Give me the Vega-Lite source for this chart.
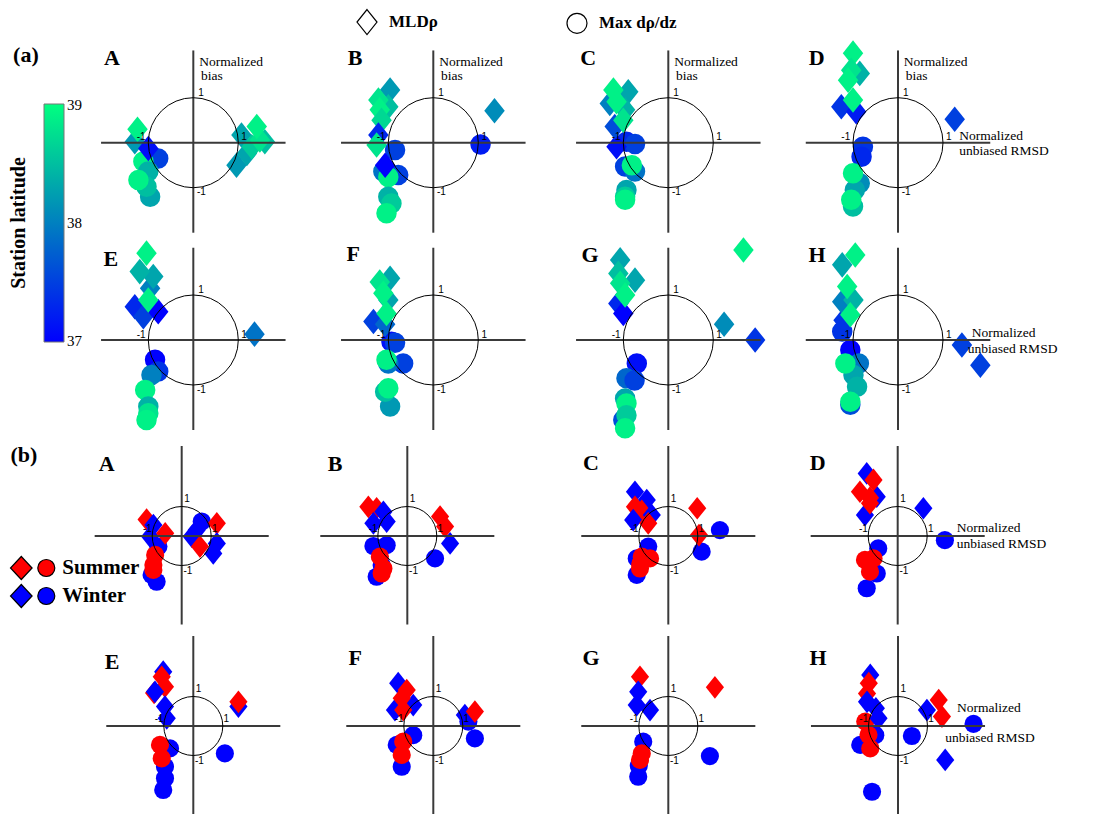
{
"$schema": "https://vega.github.io/schema/vega-lite/v6.json",
"background": "white",
"padding": 0,
"autosize": {"type": "pad"},
"config": {"view": {"stroke": null}, "font": "Liberation Serif", "text": {"color": "black"}},
"spacing": 0,
"bounds": "flush",
"columns": 4,
"datasets": {
"axA": [{"x": -2.05, "y": 0, "x2": 2.05, "y2": 0}, {"x": 0, "y": -2.0, "x2": 0, "y2": 2.05}],
"axB": [{"x": -2.95, "y": 0, "x2": 2.95, "y2": 0}, {"x": 0, "y": -3.0, "x2": 0, "y2": 3.05}],
"tkA": [{"x": 0.17, "y": 1.11, "t": "1"}, {"x": 0.18, "y": -1.1, "t": "-1"}, {"x": -1.16, "y": 0.12, "t": "-1"}, {"x": 1.13, "y": 0.12, "t": "1"}],
"tkB": [{"x": 0.18, "y": 1.24, "t": "1"}, {"x": 0.21, "y": -1.19, "t": "-1"}, {"x": -1.16, "y": 0.24, "t": "-1"}, {"x": 1.12, "y": 0.23, "t": "1"}],
"o": [{"x": 0, "y": 0}],
"bold": [
{"p": "a1", "x": -1.81, "y": 1.88, "t": "A"}, {"p": "a1", "x": -3.72, "y": 1.95, "t": "(a)"},
{"p": "a2", "x": -1.74, "y": 1.88, "t": "B"}, {"p": "a3", "x": -1.78, "y": 1.88, "t": "C"}, {"p": "a4", "x": -1.81, "y": 1.88, "t": "D"},
{"p": "a5", "x": -1.83, "y": 1.8, "t": "E"}, {"p": "a6", "x": -1.78, "y": 1.91, "t": "F"}, {"p": "a7", "x": -1.74, "y": 1.89, "t": "G"}, {"p": "a8", "x": -1.8, "y": 1.89, "t": "H"},
{"p": "b1", "x": -2.54, "y": 2.44, "t": "A"}, {"p": "b1", "x": -5.35, "y": 2.75, "t": "(b)"},
{"p": "b2", "x": -2.45, "y": 2.44, "t": "B"}, {"p": "b3", "x": -2.62, "y": 2.48, "t": "C"}, {"p": "b4", "x": -2.71, "y": 2.48, "t": "D"},
{"p": "b5", "x": -2.75, "y": 2.18, "t": "E"}, {"p": "b6", "x": -2.65, "y": 2.29, "t": "F"}, {"p": "b7", "x": -2.62, "y": 2.29, "t": "G"}, {"p": "b8", "x": -2.71, "y": 2.29, "t": "H"}
],
"ann": [
{"p": "a1", "x": 0.13, "y": 1.8, "t": "Normalized"}, {"p": "a1", "x": 0.17, "y": 1.49, "t": "bias"},
{"p": "a2", "x": 0.13, "y": 1.8, "t": "Normalized"}, {"p": "a2", "x": 0.17, "y": 1.49, "t": "bias"},
{"p": "a3", "x": 0.13, "y": 1.8, "t": "Normalized"}, {"p": "a3", "x": 0.17, "y": 1.49, "t": "bias"},
{"p": "a4", "x": 0.13, "y": 1.8, "t": "Normalized"}, {"p": "a4", "x": 0.17, "y": 1.49, "t": "bias"},
{"p": "a4", "x": 1.36, "y": 0.14, "t": "Normalized"}, {"p": "a4", "x": 1.36, "y": -0.19, "t": "unbiased RMSD"},
{"p": "a8", "x": 1.64, "y": 0.16, "t": "Normalized"}, {"p": "a8", "x": 1.55, "y": -0.19, "t": "unbiased RMSD"},
{"p": "b4", "x": 2.0, "y": 0.26, "t": "Normalized"}, {"p": "b4", "x": 2.0, "y": -0.27, "t": "unbiased RMSD"},
{"p": "b8", "x": 2.0, "y": 0.62, "t": "Normalized"}, {"p": "b8", "x": 1.6, "y": -0.42, "t": "unbiased RMSD"}
],
"pts": [
{"p":"a1","k":"Max dρ/dz","x":-0.78,"y":-0.35,"c":37.5},{"p":"a1","k":"Max dρ/dz","x":-1.11,"y":-0.42,"c":38.9},{"p":"a1","k":"Max dρ/dz","x":-1.0,"y":-0.64,"c":38.4},{"p":"a1","k":"Max dρ/dz","x":-0.96,"y":-1.2,"c":38.3},{"p":"a1","k":"Max dρ/dz","x":-1.04,"y":-0.98,"c":38.5},{"p":"a1","k":"Max dρ/dz","x":-1.22,"y":-0.83,"c":38.9},
{"p":"a1","k":"MLDρ","x":-1.3,"y":0.02,"c":38.2},{"p":"a1","k":"MLDρ","x":-1.24,"y":0.3,"c":38.9},{"p":"a1","k":"MLDρ","x":-1.0,"y":-0.13,"c":37.1},{"p":"a1","k":"MLDρ","x":0.96,"y":-0.5,"c":38.2},{"p":"a1","k":"MLDρ","x":1.19,"y":-0.24,"c":38.3},{"p":"a1","k":"MLDρ","x":1.07,"y":0.17,"c":38.3},{"p":"a1","k":"MLDρ","x":1.59,"y":0.02,"c":38.5},{"p":"a1","k":"MLDρ","x":1.3,"y":-0.09,"c":38.6},{"p":"a1","k":"MLDρ","x":1.48,"y":0.06,"c":38.8},{"p":"a1","k":"MLDρ","x":1.41,"y":0.36,"c":38.9},
{"p":"a2","k":"Max dρ/dz","x":1.05,"y":-0.04,"c":37.2},{"p":"a2","k":"Max dρ/dz","x":-0.85,"y":-0.16,"c":37.5},{"p":"a2","k":"Max dρ/dz","x":-0.78,"y":-0.72,"c":37.5},{"p":"a2","k":"Max dρ/dz","x":-1.11,"y":-0.64,"c":37.9},{"p":"a2","k":"Max dρ/dz","x":-1.0,"y":-0.76,"c":38.9},{"p":"a2","k":"Max dρ/dz","x":-1.0,"y":-1.2,"c":38.4},{"p":"a2","k":"Max dρ/dz","x":-0.93,"y":-1.35,"c":38.6},{"p":"a2","k":"Max dρ/dz","x":-1.04,"y":-1.57,"c":38.9},
{"p":"a2","k":"MLDρ","x":-0.96,"y":1.17,"c":38.2},{"p":"a2","k":"MLDρ","x":-1.0,"y":0.8,"c":38.5},{"p":"a2","k":"MLDρ","x":-1.22,"y":0.95,"c":38.8},{"p":"a2","k":"MLDρ","x":-1.19,"y":0.73,"c":38.9},{"p":"a2","k":"MLDρ","x":-1.15,"y":0.5,"c":38.7},{"p":"a2","k":"MLDρ","x":-1.22,"y":0.17,"c":37.3},{"p":"a2","k":"MLDρ","x":-1.26,"y":-0.05,"c":38.8},{"p":"a2","k":"MLDρ","x":-1.07,"y":-0.5,"c":37.0},{"p":"a2","k":"MLDρ","x":1.36,"y":0.71,"c":38.1},
{"p":"a3","k":"Max dρ/dz","x":-0.93,"y":0.02,"c":37.3},{"p":"a3","k":"Max dρ/dz","x":-0.74,"y":-0.03,"c":37.5},{"p":"a3","k":"Max dρ/dz","x":-0.96,"y":-0.53,"c":37.5},{"p":"a3","k":"Max dρ/dz","x":-0.74,"y":-0.64,"c":37.9},{"p":"a3","k":"Max dρ/dz","x":-0.81,"y":-0.5,"c":38.9},{"p":"a3","k":"Max dρ/dz","x":-0.93,"y":-1.05,"c":38.3},{"p":"a3","k":"Max dρ/dz","x":-0.96,"y":-1.2,"c":38.6},{"p":"a3","k":"Max dρ/dz","x":-0.96,"y":-1.27,"c":38.9},
{"p":"a3","k":"MLDρ","x":-1.15,"y":-0.09,"c":37.1},{"p":"a3","k":"MLDρ","x":-1.19,"y":0.36,"c":37.6},{"p":"a3","k":"MLDρ","x":-1.3,"y":0.87,"c":38.0},{"p":"a3","k":"MLDρ","x":-0.89,"y":1.13,"c":38.3},{"p":"a3","k":"MLDρ","x":-0.96,"y":0.73,"c":38.4},{"p":"a3","k":"MLDρ","x":-1.22,"y":1.17,"c":38.9},{"p":"a3","k":"MLDρ","x":-1.15,"y":0.91,"c":38.9},{"p":"a3","k":"MLDρ","x":-1.0,"y":0.5,"c":38.8},
{"p":"a4","k":"Max dρ/dz","x":-0.78,"y":-0.09,"c":37.4},{"p":"a4","k":"Max dρ/dz","x":-0.81,"y":-0.31,"c":37.3},{"p":"a4","k":"Max dρ/dz","x":-0.85,"y":-0.9,"c":38.1},{"p":"a4","k":"Max dρ/dz","x":-0.96,"y":-1.05,"c":38.3},{"p":"a4","k":"Max dρ/dz","x":-1.0,"y":-1.42,"c":38.5},{"p":"a4","k":"Max dρ/dz","x":-1.0,"y":-0.68,"c":38.9},{"p":"a4","k":"Max dρ/dz","x":-1.04,"y":-1.27,"c":38.9},
{"p":"a4","k":"MLDρ","x":-1.26,"y":0.8,"c":37.4},{"p":"a4","k":"MLDρ","x":-0.93,"y":0.69,"c":37.2},{"p":"a4","k":"MLDρ","x":-0.85,"y":1.54,"c":38.4},{"p":"a4","k":"MLDρ","x":-1.0,"y":1.99,"c":38.9},{"p":"a4","k":"MLDρ","x":-1.04,"y":1.61,"c":38.8},{"p":"a4","k":"MLDρ","x":-1.11,"y":1.39,"c":38.9},{"p":"a4","k":"MLDρ","x":-1.0,"y":0.95,"c":38.9},{"p":"a4","k":"MLDρ","x":1.26,"y":0.52,"c":37.5},
{"p":"a5","k":"Max dρ/dz","x":-0.85,"y":-0.44,"c":37.0},{"p":"a5","k":"Max dρ/dz","x":-0.78,"y":-0.7,"c":37.4},{"p":"a5","k":"Max dρ/dz","x":-0.93,"y":-0.78,"c":38.0},{"p":"a5","k":"Max dρ/dz","x":-1.07,"y":-1.11,"c":38.9},{"p":"a5","k":"Max dρ/dz","x":-1.0,"y":-1.48,"c":38.4},{"p":"a5","k":"Max dρ/dz","x":-1.0,"y":-1.63,"c":38.8},{"p":"a5","k":"Max dρ/dz","x":-1.04,"y":-1.78,"c":38.9},
{"p":"a5","k":"MLDρ","x":-1.3,"y":0.74,"c":37.3},{"p":"a5","k":"MLDρ","x":-1.11,"y":0.52,"c":37.5},{"p":"a5","k":"MLDρ","x":-0.78,"y":0.63,"c":37.0},{"p":"a5","k":"MLDρ","x":-0.96,"y":1.15,"c":38.0},{"p":"a5","k":"MLDρ","x":-0.89,"y":1.41,"c":38.3},{"p":"a5","k":"MLDρ","x":-1.19,"y":1.52,"c":38.4},{"p":"a5","k":"MLDρ","x":-1.04,"y":1.93,"c":38.9},{"p":"a5","k":"MLDρ","x":-1.0,"y":0.89,"c":38.9},{"p":"a5","k":"MLDρ","x":1.36,"y":0.13,"c":37.9},
{"p":"a6","k":"Max dρ/dz","x":-0.93,"y":-0.04,"c":37.1},{"p":"a6","k":"Max dρ/dz","x":-0.85,"y":-0.06,"c":37.5},{"p":"a6","k":"Max dρ/dz","x":-0.67,"y":-0.52,"c":37.5},{"p":"a6","k":"Max dρ/dz","x":-1.0,"y":-0.52,"c":37.9},{"p":"a6","k":"Max dρ/dz","x":-1.04,"y":-0.44,"c":38.9},{"p":"a6","k":"Max dρ/dz","x":-0.96,"y":-1.48,"c":38.2},{"p":"a6","k":"Max dρ/dz","x":-1.07,"y":-1.15,"c":38.5},{"p":"a6","k":"Max dρ/dz","x":-1.0,"y":-1.07,"c":38.9},
{"p":"a6","k":"MLDρ","x":-1.33,"y":0.41,"c":37.5},{"p":"a6","k":"MLDρ","x":-1.07,"y":0.35,"c":37.8},{"p":"a6","k":"MLDρ","x":-0.96,"y":1.37,"c":38.3},{"p":"a6","k":"MLDρ","x":-1.0,"y":0.89,"c":38.3},{"p":"a6","k":"MLDρ","x":-1.19,"y":1.29,"c":38.8},{"p":"a6","k":"MLDρ","x":-1.11,"y":1.04,"c":38.9},{"p":"a6","k":"MLDρ","x":-1.04,"y":0.59,"c":38.9},
{"p":"a7","k":"Max dρ/dz","x":-0.7,"y":-0.52,"c":37.1},{"p":"a7","k":"Max dρ/dz","x":-0.93,"y":-0.85,"c":37.8},{"p":"a7","k":"Max dρ/dz","x":-0.75,"y":-0.9,"c":37.5},{"p":"a7","k":"Max dρ/dz","x":-0.96,"y":-1.3,"c":38.3},{"p":"a7","k":"Max dρ/dz","x":-0.93,"y":-1.41,"c":38.9},{"p":"a7","k":"Max dρ/dz","x":-1.0,"y":-1.78,"c":37.6},{"p":"a7","k":"Max dρ/dz","x":-0.93,"y":-1.67,"c":38.6},{"p":"a7","k":"Max dρ/dz","x":-0.96,"y":-1.96,"c":38.9},
{"p":"a7","k":"MLDρ","x":-1.11,"y":0.81,"c":37.3},{"p":"a7","k":"MLDρ","x":-1.0,"y":0.59,"c":37.0},{"p":"a7","k":"MLDρ","x":-1.07,"y":1.78,"c":38.3},{"p":"a7","k":"MLDρ","x":-1.11,"y":1.48,"c":38.5},{"p":"a7","k":"MLDρ","x":-0.74,"y":1.33,"c":38.3},{"p":"a7","k":"MLDρ","x":-1.07,"y":1.26,"c":38.8},{"p":"a7","k":"MLDρ","x":-0.96,"y":1.0,"c":38.9},{"p":"a7","k":"MLDρ","x":1.67,"y":2.0,"c":38.9},{"p":"a7","k":"MLDρ","x":1.24,"y":0.35,"c":38.1},{"p":"a7","k":"MLDρ","x":1.93,"y":0.0,"c":37.4},
{"p":"a8","k":"Max dρ/dz","x":-1.24,"y":0.19,"c":37.4},{"p":"a8","k":"Max dρ/dz","x":-1.06,"y":-0.22,"c":37.0},{"p":"a8","k":"Max dρ/dz","x":-0.87,"y":-0.52,"c":37.9},{"p":"a8","k":"Max dρ/dz","x":-0.99,"y":-0.78,"c":38.3},{"p":"a8","k":"Max dρ/dz","x":-0.91,"y":-1.04,"c":38.4},{"p":"a8","k":"Max dρ/dz","x":-1.06,"y":-1.44,"c":37.6},{"p":"a8","k":"Max dρ/dz","x":-1.17,"y":-0.52,"c":38.9},{"p":"a8","k":"Max dρ/dz","x":-1.06,"y":-1.37,"c":38.9},
{"p":"a8","k":"MLDρ","x":-1.21,"y":0.44,"c":37.4},{"p":"a8","k":"MLDρ","x":-1.24,"y":0.85,"c":38.0},{"p":"a8","k":"MLDρ","x":-1.24,"y":1.67,"c":38.3},{"p":"a8","k":"MLDρ","x":-0.99,"y":0.89,"c":38.4},{"p":"a8","k":"MLDρ","x":-0.95,"y":1.89,"c":38.9},{"p":"a8","k":"MLDρ","x":-1.13,"y":1.19,"c":38.9},{"p":"a8","k":"MLDρ","x":-1.06,"y":0.56,"c":38.9},{"p":"a8","k":"MLDρ","x":1.42,"y":-0.11,"c":37.5},{"p":"a8","k":"MLDρ","x":1.83,"y":-0.56,"c":37.5},
{"p":"b1","k":"Max dρ/dz","x":0.68,"y":0.49,"s":"Winter"},{"p":"b1","k":"Max dρ/dz","x":-0.79,"y":-0.36,"s":"Winter"},{"p":"b1","k":"Max dρ/dz","x":-1.02,"y":-1.32,"s":"Winter"},{"p":"b1","k":"Max dρ/dz","x":-0.85,"y":-1.55,"s":"Winter"},{"p":"b1","k":"Max dρ/dz","x":-0.9,"y":-0.64,"s":"Summer"},{"p":"b1","k":"Max dρ/dz","x":-0.96,"y":-0.98,"s":"Summer"},{"p":"b1","k":"Max dρ/dz","x":-0.96,"y":-1.15,"s":"Summer"},
{"p":"b1","k":"MLDρ","x":-1.19,"y":0.56,"s":"Summer"},{"p":"b1","k":"MLDρ","x":-0.96,"y":0.37,"s":"Winter"},{"p":"b1","k":"MLDρ","x":-1.07,"y":-0.02,"s":"Winter"},{"p":"b1","k":"MLDρ","x":-0.56,"y":0.09,"s":"Summer"},{"p":"b1","k":"MLDρ","x":0.34,"y":-0.02,"s":"Winter"},{"p":"b1","k":"MLDρ","x":0.51,"y":0.2,"s":"Winter"},{"p":"b1","k":"MLDρ","x":1.19,"y":0.43,"s":"Summer"},{"p":"b1","k":"MLDρ","x":1.19,"y":-0.25,"s":"Winter"},{"p":"b1","k":"MLDρ","x":0.62,"y":-0.36,"s":"Summer"},{"p":"b1","k":"MLDρ","x":1.07,"y":-0.59,"s":"Winter"},
{"p":"b2","k":"Max dρ/dz","x":-1.15,"y":-0.34,"s":"Winter"},{"p":"b2","k":"Max dρ/dz","x":-0.7,"y":-0.31,"s":"Winter"},{"p":"b2","k":"Max dρ/dz","x":-0.87,"y":-0.98,"s":"Winter"},{"p":"b2","k":"Max dρ/dz","x":-1.04,"y":-1.38,"s":"Winter"},{"p":"b2","k":"Max dρ/dz","x":0.94,"y":-0.76,"s":"Winter"},{"p":"b2","k":"Max dρ/dz","x":-0.93,"y":-0.7,"s":"Summer"},{"p":"b2","k":"Max dρ/dz","x":-0.81,"y":-1.1,"s":"Summer"},{"p":"b2","k":"Max dρ/dz","x":-0.87,"y":-1.27,"s":"Summer"},
{"p":"b2","k":"MLDρ","x":-1.32,"y":0.99,"s":"Summer"},{"p":"b2","k":"MLDρ","x":-1.04,"y":0.94,"s":"Summer"},{"p":"b2","k":"MLDρ","x":-0.81,"y":0.82,"s":"Winter"},{"p":"b2","k":"MLDρ","x":-0.7,"y":0.49,"s":"Winter"},{"p":"b2","k":"MLDρ","x":-1.15,"y":0.43,"s":"Winter"},{"p":"b2","k":"MLDρ","x":1.11,"y":0.66,"s":"Summer"},{"p":"b2","k":"MLDρ","x":1.28,"y":0.32,"s":"Summer"},{"p":"b2","k":"MLDρ","x":1.45,"y":-0.25,"s":"Winter"},
{"p":"b3","k":"Max dρ/dz","x":1.75,"y":0.2,"s":"Winter"},{"p":"b3","k":"Max dρ/dz","x":1.13,"y":-0.53,"s":"Winter"},{"p":"b3","k":"Max dρ/dz","x":-0.68,"y":-0.36,"s":"Winter"},{"p":"b3","k":"Max dρ/dz","x":-1.07,"y":-0.76,"s":"Winter"},{"p":"b3","k":"Max dρ/dz","x":-1.07,"y":-1.32,"s":"Winter"},{"p":"b3","k":"Max dρ/dz","x":-0.9,"y":-0.7,"s":"Summer"},{"p":"b3","k":"Max dρ/dz","x":-0.62,"y":-0.76,"s":"Summer"},{"p":"b3","k":"Max dρ/dz","x":-0.95,"y":-0.95,"s":"Summer"},{"p":"b3","k":"Max dρ/dz","x":-0.96,"y":-1.1,"s":"Summer"},
{"p":"b3","k":"MLDρ","x":-1.13,"y":1.5,"s":"Winter"},{"p":"b3","k":"MLDρ","x":-0.73,"y":1.22,"s":"Winter"},{"p":"b3","k":"MLDρ","x":-1.13,"y":0.99,"s":"Summer"},{"p":"b3","k":"MLDρ","x":-0.9,"y":0.85,"s":"Summer"},{"p":"b3","k":"MLDρ","x":-0.56,"y":0.71,"s":"Winter"},{"p":"b3","k":"MLDρ","x":-1.19,"y":0.54,"s":"Winter"},{"p":"b3","k":"MLDρ","x":-0.68,"y":0.43,"s":"Summer"},{"p":"b3","k":"MLDρ","x":0.98,"y":0.94,"s":"Summer"},{"p":"b3","k":"MLDρ","x":1.04,"y":0.03,"s":"Summer"},
{"p":"b4","k":"Max dρ/dz","x":1.6,"y":-0.14,"s":"Winter"},{"p":"b4","k":"Max dρ/dz","x":-0.66,"y":-0.42,"s":"Winter"},{"p":"b4","k":"Max dρ/dz","x":-0.71,"y":-1.27,"s":"Winter"},{"p":"b4","k":"Max dρ/dz","x":-1.05,"y":-1.77,"s":"Winter"},{"p":"b4","k":"Max dρ/dz","x":-1.11,"y":-0.81,"s":"Summer"},{"p":"b4","k":"Max dρ/dz","x":-0.82,"y":-0.76,"s":"Summer"},{"p":"b4","k":"Max dρ/dz","x":-0.94,"y":-1.21,"s":"Summer"},
{"p":"b4","k":"MLDρ","x":-1.05,"y":2.12,"s":"Winter"},{"p":"b4","k":"MLDρ","x":-0.71,"y":1.33,"s":"Winter"},{"p":"b4","k":"MLDρ","x":-1.11,"y":0.71,"s":"Winter"},{"p":"b4","k":"MLDρ","x":-0.82,"y":1.9,"s":"Summer"},{"p":"b4","k":"MLDρ","x":-1.28,"y":1.5,"s":"Summer"},{"p":"b4","k":"MLDρ","x":-0.94,"y":1.3,"s":"Summer"},{"p":"b4","k":"MLDρ","x":-0.94,"y":1.11,"s":"Summer"},{"p":"b4","k":"MLDρ","x":0.87,"y":0.94,"s":"Winter"},
{"p":"b5","k":"Max dρ/dz","x":-0.79,"y":-0.76,"s":"Winter"},{"p":"b5","k":"Max dρ/dz","x":-0.96,"y":-1.38,"s":"Winter"},{"p":"b5","k":"Max dρ/dz","x":-0.96,"y":-1.77,"s":"Winter"},{"p":"b5","k":"Max dρ/dz","x":-1.02,"y":-2.17,"s":"Winter"},{"p":"b5","k":"Max dρ/dz","x":1.07,"y":-0.93,"s":"Winter"},{"p":"b5","k":"Max dρ/dz","x":-1.13,"y":-0.64,"s":"Summer"},{"p":"b5","k":"Max dρ/dz","x":-1.07,"y":-1.1,"s":"Summer"},
{"p":"b5","k":"MLDρ","x":-1.02,"y":1.84,"s":"Winter"},{"p":"b5","k":"MLDρ","x":-1.07,"y":1.67,"s":"Summer"},{"p":"b5","k":"MLDρ","x":-0.96,"y":1.33,"s":"Summer"},{"p":"b5","k":"MLDρ","x":-1.33,"y":1.12,"s":"Summer"},{"p":"b5","k":"MLDρ","x":-1.3,"y":1.16,"s":"Winter"},{"p":"b5","k":"MLDρ","x":-0.96,"y":0.66,"s":"Winter"},{"p":"b5","k":"MLDρ","x":-0.9,"y":0.26,"s":"Winter"},{"p":"b5","k":"MLDρ","x":1.53,"y":0.66,"s":"Winter"},{"p":"b5","k":"MLDρ","x":1.53,"y":0.82,"s":"Summer"},
{"p":"b6","k":"Max dρ/dz","x":1.19,"y":0.15,"s":"Winter"},{"p":"b6","k":"Max dρ/dz","x":-0.68,"y":-0.31,"s":"Winter"},{"p":"b6","k":"Max dρ/dz","x":1.41,"y":-0.42,"s":"Winter"},{"p":"b6","k":"Max dρ/dz","x":-1.24,"y":-0.64,"s":"Winter"},{"p":"b6","k":"Max dρ/dz","x":-1.07,"y":-1.38,"s":"Winter"},{"p":"b6","k":"Max dρ/dz","x":-1.02,"y":-0.53,"s":"Summer"},{"p":"b6","k":"Max dρ/dz","x":-1.07,"y":-0.98,"s":"Summer"},
{"p":"b6","k":"MLDρ","x":-1.19,"y":1.45,"s":"Winter"},{"p":"b6","k":"MLDρ","x":-1.3,"y":0.54,"s":"Winter"},{"p":"b6","k":"MLDρ","x":-0.68,"y":0.71,"s":"Winter"},{"p":"b6","k":"MLDρ","x":-0.9,"y":1.22,"s":"Summer"},{"p":"b6","k":"MLDρ","x":-1.07,"y":0.94,"s":"Summer"},{"p":"b6","k":"MLDρ","x":-1.02,"y":0.54,"s":"Summer"},{"p":"b6","k":"MLDρ","x":1.07,"y":0.37,"s":"Winter"},{"p":"b6","k":"MLDρ","x":1.41,"y":0.49,"s":"Summer"},
{"p":"b7","k":"Max dρ/dz","x":-0.85,"y":-0.53,"s":"Winter"},{"p":"b7","k":"Max dρ/dz","x":-1.02,"y":-1.72,"s":"Winter"},{"p":"b7","k":"Max dρ/dz","x":-1.0,"y":-1.35,"s":"Winter"},{"p":"b7","k":"Max dρ/dz","x":1.41,"y":-1.02,"s":"Winter"},{"p":"b7","k":"Max dρ/dz","x":-0.9,"y":-0.93,"s":"Summer"},{"p":"b7","k":"Max dρ/dz","x":-0.96,"y":-1.15,"s":"Summer"},
{"p":"b7","k":"MLDρ","x":-0.96,"y":1.67,"s":"Summer"},{"p":"b7","k":"MLDρ","x":-1.02,"y":1.16,"s":"Winter"},{"p":"b7","k":"MLDρ","x":-1.07,"y":0.71,"s":"Winter"},{"p":"b7","k":"MLDρ","x":-0.62,"y":0.54,"s":"Winter"},{"p":"b7","k":"MLDρ","x":1.58,"y":1.31,"s":"Summer"},
{"p":"b8","k":"Max dρ/dz","x":-0.77,"y":-0.31,"s":"Winter"},{"p":"b8","k":"Max dρ/dz","x":-1.28,"y":-0.64,"s":"Winter"},{"p":"b8","k":"Max dρ/dz","x":0.47,"y":-0.34,"s":"Winter"},{"p":"b8","k":"Max dρ/dz","x":2.56,"y":0.07,"s":"Winter"},{"p":"b8","k":"Max dρ/dz","x":-0.88,"y":-2.23,"s":"Winter"},{"p":"b8","k":"Max dρ/dz","x":-1.11,"y":0.15,"s":"Summer"},{"p":"b8","k":"Max dρ/dz","x":-1.0,"y":-0.3,"s":"Summer"},{"p":"b8","k":"Max dρ/dz","x":-0.94,"y":-0.76,"s":"Summer"},
{"p":"b8","k":"MLDρ","x":-0.94,"y":1.73,"s":"Winter"},{"p":"b8","k":"MLDρ","x":-0.99,"y":1.45,"s":"Summer"},{"p":"b8","k":"MLDρ","x":-1.05,"y":1.1,"s":"Summer"},{"p":"b8","k":"MLDρ","x":-1.05,"y":0.82,"s":"Winter"},{"p":"b8","k":"MLDρ","x":-0.75,"y":0.6,"s":"Winter"},{"p":"b8","k":"MLDρ","x":-0.66,"y":0.26,"s":"Winter"},{"p":"b8","k":"MLDρ","x":0.98,"y":0.54,"s":"Winter"},{"p":"b8","k":"MLDρ","x":1.38,"y":0.88,"s":"Summer"},{"p":"b8","k":"MLDρ","x":1.49,"y":0.32,"s":"Summer"},{"p":"b8","k":"MLDρ","x":1.6,"y":-1.15,"s":"Winter"}
]
},
"concat": [
{"width": 313, "height": 240,
 "encoding": {"x": {"field": "x", "type": "quantitative", "scale": {"domain": [-4.296, 2.66], "nice": false, "zero": false}, "axis": null},
  "y": {"field": "y", "type": "quantitative", "scale": {"domain": [-2.162, 3.171], "nice": false, "zero": false}, "axis": null}},
 "layer": [
  {"data": {"name": "pts"}, "transform": [{"filter": "datum.p==='a1'"}], "mark": {"type": "point", "filled": true, "opacity": 1, "size": 420, "strokeWidth": 0},
   "encoding": {
    "color": {"field": "c", "type": "quantitative", "scale": {"domain": [36.99, 39.01], "range": ["#0000ff", "#00ff80"], "interpolate": "rgb"},
     "legend": {"orient": "none", "legendX": 9, "legendY": 104, "direction": "vertical", "title": "Station latitude", "titleOrient": "left", "titleAnchor": "middle", "titleFont": "Liberation Serif", "titleFontSize": 20, "titleFontWeight": "bold", "titleColor": "black", "titlePadding": 14, "gradientLength": 238, "gradientThickness": 20, "gradientStrokeColor": "#777777", "gradientStrokeWidth": 1, "values": [37, 38, 39], "format": ".0f", "labelFont": "Liberation Serif", "labelFontSize": 15, "labelColor": "black", "labelOffset": 3, "labelFlush": false, "labelOverlap": false}},
    "shape": {"field": "k", "type": "nominal", "scale": {"domain": ["MLDρ", "Max dρ/dz"], "range": ["M0,-1.25L1,0L0,1.25L-1,0Z", "circle"]},
     "legend": {"orient": "none", "legendX": 356, "legendY": 11, "direction": "horizontal", "title": null, "symbolSize": 400, "symbolStrokeColor": "black", "symbolStrokeWidth": 1.2, "symbolFillColor": "white", "labelFont": "Liberation Serif", "labelFontSize": 17, "labelFontWeight": "bold", "labelColor": "black", "labelOffset": 11, "columnPadding": 126,
      "encode": {"symbols": {"update": {"fill": {"value": "white"}, "stroke": {"value": "black"}, "strokeWidth": {"value": 1.2}, "size": {"value": 400}, "opacity": {"value": 1}}}}}}}},
  {"data": {"name": "axA"}, "mark": {"type": "rule", "color": "#3a3a3a", "strokeWidth": 2}, "encoding": {"x2": {"field": "x2"}, "y2": {"field": "y2"}}},
  {"data": {"name": "o"}, "mark": {"type": "point", "shape": "circle", "size": 8100, "filled": false, "color": "black", "strokeWidth": 1, "opacity": 1}},
  {"data": {"name": "tkA"}, "mark": {"type": "text", "font": "Liberation Sans", "fontSize": 10}, "encoding": {"text": {"field": "t"}}},
  {"data": {"name": "ann"}, "transform": [{"filter": "datum.p==='a1'"}], "mark": {"type": "text", "align": "left", "fontSize": 13.5}, "encoding": {"text": {"field": "t"}}},
  {"data": {"name": "bold"}, "transform": [{"filter": "datum.p==='a1'"}], "mark": {"type": "text", "fontSize": 22, "fontWeight": "bold"}, "encoding": {"text": {"field": "t"}}}
 ]},
{"width": 237, "height": 240,
 "encoding": {"x": {"field": "x", "type": "quantitative", "scale": {"domain": [-2.673, 2.593], "nice": false, "zero": false}, "axis": null},
  "y": {"field": "y", "type": "quantitative", "scale": {"domain": [-2.162, 3.171], "nice": false, "zero": false}, "axis": null}},
 "layer": [
  {"data": {"name": "pts"}, "transform": [{"filter": "datum.p==='a2'"}], "mark": {"type": "point", "filled": true, "opacity": 1, "size": 420, "strokeWidth": 0},
   "encoding": {"color": {"field": "c", "type": "quantitative", "scale": {"domain": [36.99, 39.01], "range": ["#0000ff", "#00ff80"], "interpolate": "rgb"}},
    "shape": {"field": "k", "type": "nominal", "scale": {"domain": ["MLDρ", "Max dρ/dz"], "range": ["M0,-1.25L1,0L0,1.25L-1,0Z", "circle"]}}}},
  {"data": {"name": "axA"}, "mark": {"type": "rule", "color": "#3a3a3a", "strokeWidth": 2}, "encoding": {"x2": {"field": "x2"}, "y2": {"field": "y2"}}},
  {"data": {"name": "o"}, "mark": {"type": "point", "shape": "circle", "size": 8100, "filled": false, "color": "black", "strokeWidth": 1, "opacity": 1}},
  {"data": {"name": "tkA"}, "mark": {"type": "text", "font": "Liberation Sans", "fontSize": 10}, "encoding": {"text": {"field": "t"}}},
  {"data": {"name": "ann"}, "transform": [{"filter": "datum.p==='a2'"}], "mark": {"type": "text", "align": "left", "fontSize": 13.5}, "encoding": {"text": {"field": "t"}}},
  {"data": {"name": "bold"}, "transform": [{"filter": "datum.p==='a2'"}], "mark": {"type": "text", "fontSize": 22, "fontWeight": "bold"}, "encoding": {"text": {"field": "t"}}}
 ]},
{"width": 233, "height": 240,
 "encoding": {"x": {"field": "x", "type": "quantitative", "scale": {"domain": [-2.629, 2.549], "nice": false, "zero": false}, "axis": null},
  "y": {"field": "y", "type": "quantitative", "scale": {"domain": [-2.162, 3.171], "nice": false, "zero": false}, "axis": null}},
 "layer": [
  {"data": {"name": "pts"}, "transform": [{"filter": "datum.p==='a3'"}], "mark": {"type": "point", "filled": true, "opacity": 1, "size": 420, "strokeWidth": 0},
   "encoding": {"color": {"field": "c", "type": "quantitative", "scale": {"domain": [36.99, 39.01], "range": ["#0000ff", "#00ff80"], "interpolate": "rgb"}},
    "shape": {"field": "k", "type": "nominal", "scale": {"domain": ["MLDρ", "Max dρ/dz"], "range": ["M0,-1.25L1,0L0,1.25L-1,0Z", "circle"]}}}},
  {"data": {"name": "axA"}, "mark": {"type": "rule", "color": "#3a3a3a", "strokeWidth": 2}, "encoding": {"x2": {"field": "x2"}, "y2": {"field": "y2"}}},
  {"data": {"name": "o"}, "mark": {"type": "point", "shape": "circle", "size": 8100, "filled": false, "color": "black", "strokeWidth": 1, "opacity": 1}},
  {"data": {"name": "tkA"}, "mark": {"type": "text", "font": "Liberation Sans", "fontSize": 10}, "encoding": {"text": {"field": "t"}}},
  {"data": {"name": "ann"}, "transform": [{"filter": "datum.p==='a3'"}], "mark": {"type": "text", "align": "left", "fontSize": 13.5}, "encoding": {"text": {"field": "t"}}},
  {"data": {"name": "bold"}, "transform": [{"filter": "datum.p==='a3'"}], "mark": {"type": "text", "fontSize": 22, "fontWeight": "bold"}, "encoding": {"text": {"field": "t"}}}
 ]},
{"width": 317, "height": 240,
 "encoding": {"x": {"field": "x", "type": "quantitative", "scale": {"domain": [-2.556, 4.489], "nice": false, "zero": false}, "axis": null},
  "y": {"field": "y", "type": "quantitative", "scale": {"domain": [-2.162, 3.171], "nice": false, "zero": false}, "axis": null}},
 "layer": [
  {"data": {"name": "pts"}, "transform": [{"filter": "datum.p==='a4'"}], "mark": {"type": "point", "filled": true, "opacity": 1, "size": 420, "strokeWidth": 0},
   "encoding": {"color": {"field": "c", "type": "quantitative", "scale": {"domain": [36.99, 39.01], "range": ["#0000ff", "#00ff80"], "interpolate": "rgb"}},
    "shape": {"field": "k", "type": "nominal", "scale": {"domain": ["MLDρ", "Max dρ/dz"], "range": ["M0,-1.25L1,0L0,1.25L-1,0Z", "circle"]}}}},
  {"data": {"name": "axA"}, "mark": {"type": "rule", "color": "#3a3a3a", "strokeWidth": 2}, "encoding": {"x2": {"field": "x2"}, "y2": {"field": "y2"}}},
  {"data": {"name": "o"}, "mark": {"type": "point", "shape": "circle", "size": 8100, "filled": false, "color": "black", "strokeWidth": 1, "opacity": 1}},
  {"data": {"name": "tkA"}, "mark": {"type": "text", "font": "Liberation Sans", "fontSize": 10}, "encoding": {"text": {"field": "t"}}},
  {"data": {"name": "ann"}, "transform": [{"filter": "datum.p==='a4'"}], "mark": {"type": "text", "align": "left", "fontSize": 13.5}, "encoding": {"text": {"field": "t"}}},
  {"data": {"name": "bold"}, "transform": [{"filter": "datum.p==='a4'"}], "mark": {"type": "text", "fontSize": 22, "fontWeight": "bold"}, "encoding": {"text": {"field": "t"}}}
 ]},
{"width": 313, "height": 200,
 "encoding": {"x": {"field": "x", "type": "quantitative", "scale": {"domain": [-4.296, 2.66], "nice": false, "zero": false}, "axis": null},
  "y": {"field": "y", "type": "quantitative", "scale": {"domain": [-2.222, 2.222], "nice": false, "zero": false}, "axis": null}},
 "layer": [
  {"data": {"name": "pts"}, "transform": [{"filter": "datum.p==='a5'"}], "mark": {"type": "point", "filled": true, "opacity": 1, "size": 420, "strokeWidth": 0},
   "encoding": {"color": {"field": "c", "type": "quantitative", "scale": {"domain": [36.99, 39.01], "range": ["#0000ff", "#00ff80"], "interpolate": "rgb"}},
    "shape": {"field": "k", "type": "nominal", "scale": {"domain": ["MLDρ", "Max dρ/dz"], "range": ["M0,-1.25L1,0L0,1.25L-1,0Z", "circle"]}}}},
  {"data": {"name": "axA"}, "mark": {"type": "rule", "color": "#3a3a3a", "strokeWidth": 2}, "encoding": {"x2": {"field": "x2"}, "y2": {"field": "y2"}}},
  {"data": {"name": "o"}, "mark": {"type": "point", "shape": "circle", "size": 8100, "filled": false, "color": "black", "strokeWidth": 1, "opacity": 1}},
  {"data": {"name": "tkA"}, "mark": {"type": "text", "font": "Liberation Sans", "fontSize": 10}, "encoding": {"text": {"field": "t"}}},
  {"data": {"name": "bold"}, "transform": [{"filter": "datum.p==='a5'"}], "mark": {"type": "text", "fontSize": 22, "fontWeight": "bold"}, "encoding": {"text": {"field": "t"}}}
 ]},
{"width": 237, "height": 200,
 "encoding": {"x": {"field": "x", "type": "quantitative", "scale": {"domain": [-2.673, 2.593], "nice": false, "zero": false}, "axis": null},
  "y": {"field": "y", "type": "quantitative", "scale": {"domain": [-2.222, 2.222], "nice": false, "zero": false}, "axis": null}},
 "layer": [
  {"data": {"name": "pts"}, "transform": [{"filter": "datum.p==='a6'"}], "mark": {"type": "point", "filled": true, "opacity": 1, "size": 420, "strokeWidth": 0},
   "encoding": {"color": {"field": "c", "type": "quantitative", "scale": {"domain": [36.99, 39.01], "range": ["#0000ff", "#00ff80"], "interpolate": "rgb"}},
    "shape": {"field": "k", "type": "nominal", "scale": {"domain": ["MLDρ", "Max dρ/dz"], "range": ["M0,-1.25L1,0L0,1.25L-1,0Z", "circle"]}}}},
  {"data": {"name": "axA"}, "mark": {"type": "rule", "color": "#3a3a3a", "strokeWidth": 2}, "encoding": {"x2": {"field": "x2"}, "y2": {"field": "y2"}}},
  {"data": {"name": "o"}, "mark": {"type": "point", "shape": "circle", "size": 8100, "filled": false, "color": "black", "strokeWidth": 1, "opacity": 1}},
  {"data": {"name": "tkA"}, "mark": {"type": "text", "font": "Liberation Sans", "fontSize": 10}, "encoding": {"text": {"field": "t"}}},
  {"data": {"name": "bold"}, "transform": [{"filter": "datum.p==='a6'"}], "mark": {"type": "text", "fontSize": 22, "fontWeight": "bold"}, "encoding": {"text": {"field": "t"}}}
 ]},
{"width": 233, "height": 200,
 "encoding": {"x": {"field": "x", "type": "quantitative", "scale": {"domain": [-2.629, 2.549], "nice": false, "zero": false}, "axis": null},
  "y": {"field": "y", "type": "quantitative", "scale": {"domain": [-2.222, 2.222], "nice": false, "zero": false}, "axis": null}},
 "layer": [
  {"data": {"name": "pts"}, "transform": [{"filter": "datum.p==='a7'"}], "mark": {"type": "point", "filled": true, "opacity": 1, "size": 420, "strokeWidth": 0},
   "encoding": {"color": {"field": "c", "type": "quantitative", "scale": {"domain": [36.99, 39.01], "range": ["#0000ff", "#00ff80"], "interpolate": "rgb"}},
    "shape": {"field": "k", "type": "nominal", "scale": {"domain": ["MLDρ", "Max dρ/dz"], "range": ["M0,-1.25L1,0L0,1.25L-1,0Z", "circle"]}}}},
  {"data": {"name": "axA"}, "mark": {"type": "rule", "color": "#3a3a3a", "strokeWidth": 2}, "encoding": {"x2": {"field": "x2"}, "y2": {"field": "y2"}}},
  {"data": {"name": "o"}, "mark": {"type": "point", "shape": "circle", "size": 8100, "filled": false, "color": "black", "strokeWidth": 1, "opacity": 1}},
  {"data": {"name": "tkA"}, "mark": {"type": "text", "font": "Liberation Sans", "fontSize": 10}, "encoding": {"text": {"field": "t"}}},
  {"data": {"name": "bold"}, "transform": [{"filter": "datum.p==='a7'"}], "mark": {"type": "text", "fontSize": 22, "fontWeight": "bold"}, "encoding": {"text": {"field": "t"}}}
 ]},
{"width": 317, "height": 200,
 "encoding": {"x": {"field": "x", "type": "quantitative", "scale": {"domain": [-2.556, 4.489], "nice": false, "zero": false}, "axis": null},
  "y": {"field": "y", "type": "quantitative", "scale": {"domain": [-2.222, 2.222], "nice": false, "zero": false}, "axis": null}},
 "layer": [
  {"data": {"name": "pts"}, "transform": [{"filter": "datum.p==='a8'"}], "mark": {"type": "point", "filled": true, "opacity": 1, "size": 420, "strokeWidth": 0},
   "encoding": {"color": {"field": "c", "type": "quantitative", "scale": {"domain": [36.99, 39.01], "range": ["#0000ff", "#00ff80"], "interpolate": "rgb"}},
    "shape": {"field": "k", "type": "nominal", "scale": {"domain": ["MLDρ", "Max dρ/dz"], "range": ["M0,-1.25L1,0L0,1.25L-1,0Z", "circle"]}}}},
  {"data": {"name": "axA"}, "mark": {"type": "rule", "color": "#3a3a3a", "strokeWidth": 2}, "encoding": {"x2": {"field": "x2"}, "y2": {"field": "y2"}}},
  {"data": {"name": "o"}, "mark": {"type": "point", "shape": "circle", "size": 8100, "filled": false, "color": "black", "strokeWidth": 1, "opacity": 1}},
  {"data": {"name": "tkA"}, "mark": {"type": "text", "font": "Liberation Sans", "fontSize": 10}, "encoding": {"text": {"field": "t"}}},
  {"data": {"name": "ann"}, "transform": [{"filter": "datum.p==='a8'"}], "mark": {"type": "text", "align": "left", "fontSize": 13.5}, "encoding": {"text": {"field": "t"}}},
  {"data": {"name": "bold"}, "transform": [{"filter": "datum.p==='a8'"}], "mark": {"type": "text", "fontSize": 22, "fontWeight": "bold"}, "encoding": {"text": {"field": "t"}}}
 ]},
{"width": 313, "height": 190,
 "encoding": {"x": {"field": "x", "type": "quantitative", "scale": {"domain": [-6.159, 4.451], "nice": false, "zero": false}, "axis": null},
  "y": {"field": "y", "type": "quantitative", "scale": {"domain": [-3.186, 3.254], "nice": false, "zero": false}, "axis": null}},
 "layer": [
  {"data": {"name": "pts"}, "transform": [{"filter": "datum.p==='b1'"}], "mark": {"type": "point", "filled": true, "opacity": 1, "size": 330, "strokeWidth": 0},
   "encoding": {
    "fill": {"field": "s", "type": "nominal", "scale": {"domain": ["Summer", "Winter"], "range": ["#ff0000", "#0000ff"]},
     "legend": {"orient": "none", "legendX": 22.8, "legendY": 557, "direction": "vertical", "title": null, "symbolType": "M-1.25,-1.15L-0.17,0L-1.25,1.15L-2.33,0Z M2.1,0A0.85,0.85,0,1,1,0.4,0A0.85,0.85,0,1,1,2.1,0Z", "symbolSize": 400, "symbolStrokeColor": "black", "symbolStrokeWidth": 1.2, "labelFont": "Liberation Serif", "labelFontSize": 21, "labelFontWeight": "bold", "labelColor": "black", "labelOffset": 17.5, "rowPadding": 0,
      "encode": {"symbols": {"update": {"stroke": {"value": "black"}, "strokeWidth": {"value": 1.2}, "size": {"value": 400}, "opacity": {"value": 1}}}}}},
    "shape": {"field": "k", "type": "nominal", "scale": {"domain": ["MLDρ", "Max dρ/dz"], "range": ["M0,-1.25L1,0L0,1.25L-1,0Z", "circle"]}}}},
  {"data": {"name": "axB"}, "mark": {"type": "rule", "color": "#3a3a3a", "strokeWidth": 2}, "encoding": {"x2": {"field": "x2"}, "y2": {"field": "y2"}}},
  {"data": {"name": "o"}, "mark": {"type": "point", "shape": "circle", "size": 3481, "filled": false, "color": "black", "strokeWidth": 1, "opacity": 1}},
  {"data": {"name": "tkB"}, "mark": {"type": "text", "font": "Liberation Sans", "fontSize": 10}, "encoding": {"text": {"field": "t"}}},
  {"data": {"name": "bold"}, "transform": [{"filter": "datum.p==='b1'"}], "mark": {"type": "text", "fontSize": 22, "fontWeight": "bold"}, "encoding": {"text": {"field": "t"}}}
 ]},
{"width": 237, "height": 190,
 "encoding": {"x": {"field": "x", "type": "quantitative", "scale": {"domain": [-3.197, 4.837], "nice": false, "zero": false}, "axis": null},
  "y": {"field": "y", "type": "quantitative", "scale": {"domain": [-3.186, 3.254], "nice": false, "zero": false}, "axis": null}},
 "layer": [
  {"data": {"name": "pts"}, "transform": [{"filter": "datum.p==='b2'"}], "mark": {"type": "point", "filled": true, "opacity": 1, "size": 330, "strokeWidth": 0},
   "encoding": {"fill": {"field": "s", "type": "nominal", "scale": {"domain": ["Summer", "Winter"], "range": ["#ff0000", "#0000ff"]}},
    "shape": {"field": "k", "type": "nominal", "scale": {"domain": ["MLDρ", "Max dρ/dz"], "range": ["M0,-1.25L1,0L0,1.25L-1,0Z", "circle"]}}}},
  {"data": {"name": "axB"}, "mark": {"type": "rule", "color": "#3a3a3a", "strokeWidth": 2}, "encoding": {"x2": {"field": "x2"}, "y2": {"field": "y2"}}},
  {"data": {"name": "o"}, "mark": {"type": "point", "shape": "circle", "size": 3481, "filled": false, "color": "black", "strokeWidth": 1, "opacity": 1}},
  {"data": {"name": "tkB"}, "mark": {"type": "text", "font": "Liberation Sans", "fontSize": 10}, "encoding": {"text": {"field": "t"}}},
  {"data": {"name": "bold"}, "transform": [{"filter": "datum.p==='b2'"}], "mark": {"type": "text", "fontSize": 22, "fontWeight": "bold"}, "encoding": {"text": {"field": "t"}}}
 ]},
{"width": 233, "height": 190,
 "encoding": {"x": {"field": "x", "type": "quantitative", "scale": {"domain": [-4.01, 3.888], "nice": false, "zero": false}, "axis": null},
  "y": {"field": "y", "type": "quantitative", "scale": {"domain": [-3.186, 3.254], "nice": false, "zero": false}, "axis": null}},
 "layer": [
  {"data": {"name": "pts"}, "transform": [{"filter": "datum.p==='b3'"}], "mark": {"type": "point", "filled": true, "opacity": 1, "size": 330, "strokeWidth": 0},
   "encoding": {"fill": {"field": "s", "type": "nominal", "scale": {"domain": ["Summer", "Winter"], "range": ["#ff0000", "#0000ff"]}},
    "shape": {"field": "k", "type": "nominal", "scale": {"domain": ["MLDρ", "Max dρ/dz"], "range": ["M0,-1.25L1,0L0,1.25L-1,0Z", "circle"]}}}},
  {"data": {"name": "axB"}, "mark": {"type": "rule", "color": "#3a3a3a", "strokeWidth": 2}, "encoding": {"x2": {"field": "x2"}, "y2": {"field": "y2"}}},
  {"data": {"name": "o"}, "mark": {"type": "point", "shape": "circle", "size": 3481, "filled": false, "color": "black", "strokeWidth": 1, "opacity": 1}},
  {"data": {"name": "tkB"}, "mark": {"type": "text", "font": "Liberation Sans", "fontSize": 10}, "encoding": {"text": {"field": "t"}}},
  {"data": {"name": "bold"}, "transform": [{"filter": "datum.p==='b3'"}], "mark": {"type": "text", "fontSize": 22, "fontWeight": "bold"}, "encoding": {"text": {"field": "t"}}}
 ]},
{"width": 317, "height": 190,
 "encoding": {"x": {"field": "x", "type": "quantitative", "scale": {"domain": [-3.888, 6.858], "nice": false, "zero": false}, "axis": null},
  "y": {"field": "y", "type": "quantitative", "scale": {"domain": [-3.186, 3.254], "nice": false, "zero": false}, "axis": null}},
 "layer": [
  {"data": {"name": "pts"}, "transform": [{"filter": "datum.p==='b4'"}], "mark": {"type": "point", "filled": true, "opacity": 1, "size": 330, "strokeWidth": 0},
   "encoding": {"fill": {"field": "s", "type": "nominal", "scale": {"domain": ["Summer", "Winter"], "range": ["#ff0000", "#0000ff"]}},
    "shape": {"field": "k", "type": "nominal", "scale": {"domain": ["MLDρ", "Max dρ/dz"], "range": ["M0,-1.25L1,0L0,1.25L-1,0Z", "circle"]}}}},
  {"data": {"name": "axB"}, "mark": {"type": "rule", "color": "#3a3a3a", "strokeWidth": 2}, "encoding": {"x2": {"field": "x2"}, "y2": {"field": "y2"}}},
  {"data": {"name": "o"}, "mark": {"type": "point", "shape": "circle", "size": 3481, "filled": false, "color": "black", "strokeWidth": 1, "opacity": 1}},
  {"data": {"name": "tkB"}, "mark": {"type": "text", "font": "Liberation Sans", "fontSize": 10}, "encoding": {"text": {"field": "t"}}},
  {"data": {"name": "ann"}, "transform": [{"filter": "datum.p==='b4'"}], "mark": {"type": "text", "align": "left", "fontSize": 13.5}, "encoding": {"text": {"field": "t"}}},
  {"data": {"name": "bold"}, "transform": [{"filter": "datum.p==='b4'"}], "mark": {"type": "text", "fontSize": 22, "fontWeight": "bold"}, "encoding": {"text": {"field": "t"}}}
 ]},
{"width": 313, "height": 184,
 "encoding": {"x": {"field": "x", "type": "quantitative", "scale": {"domain": [-6.553, 4.058], "nice": false, "zero": false}, "axis": null},
  "y": {"field": "y", "type": "quantitative", "scale": {"domain": [-2.983, 3.254], "nice": false, "zero": false}, "axis": null}},
 "layer": [
  {"data": {"name": "pts"}, "transform": [{"filter": "datum.p==='b5'"}], "mark": {"type": "point", "filled": true, "opacity": 1, "size": 330, "strokeWidth": 0},
   "encoding": {"fill": {"field": "s", "type": "nominal", "scale": {"domain": ["Summer", "Winter"], "range": ["#ff0000", "#0000ff"]}},
    "shape": {"field": "k", "type": "nominal", "scale": {"domain": ["MLDρ", "Max dρ/dz"], "range": ["M0,-1.25L1,0L0,1.25L-1,0Z", "circle"]}}}},
  {"data": {"name": "axB"}, "mark": {"type": "rule", "color": "#3a3a3a", "strokeWidth": 2}, "encoding": {"x2": {"field": "x2"}, "y2": {"field": "y2"}}},
  {"data": {"name": "o"}, "mark": {"type": "point", "shape": "circle", "size": 3481, "filled": false, "color": "black", "strokeWidth": 1, "opacity": 1}},
  {"data": {"name": "tkB"}, "mark": {"type": "text", "font": "Liberation Sans", "fontSize": 10}, "encoding": {"text": {"field": "t"}}},
  {"data": {"name": "bold"}, "transform": [{"filter": "datum.p==='b5'"}], "mark": {"type": "text", "fontSize": 22, "fontWeight": "bold"}, "encoding": {"text": {"field": "t"}}}
 ]},
{"width": 237, "height": 184,
 "encoding": {"x": {"field": "x", "type": "quantitative", "scale": {"domain": [-4.078, 3.956], "nice": false, "zero": false}, "axis": null},
  "y": {"field": "y", "type": "quantitative", "scale": {"domain": [-2.983, 3.254], "nice": false, "zero": false}, "axis": null}},
 "layer": [
  {"data": {"name": "pts"}, "transform": [{"filter": "datum.p==='b6'"}], "mark": {"type": "point", "filled": true, "opacity": 1, "size": 330, "strokeWidth": 0},
   "encoding": {"fill": {"field": "s", "type": "nominal", "scale": {"domain": ["Summer", "Winter"], "range": ["#ff0000", "#0000ff"]}},
    "shape": {"field": "k", "type": "nominal", "scale": {"domain": ["MLDρ", "Max dρ/dz"], "range": ["M0,-1.25L1,0L0,1.25L-1,0Z", "circle"]}}}},
  {"data": {"name": "axB"}, "mark": {"type": "rule", "color": "#3a3a3a", "strokeWidth": 2}, "encoding": {"x2": {"field": "x2"}, "y2": {"field": "y2"}}},
  {"data": {"name": "o"}, "mark": {"type": "point", "shape": "circle", "size": 3481, "filled": false, "color": "black", "strokeWidth": 1, "opacity": 1}},
  {"data": {"name": "tkB"}, "mark": {"type": "text", "font": "Liberation Sans", "fontSize": 10}, "encoding": {"text": {"field": "t"}}},
  {"data": {"name": "bold"}, "transform": [{"filter": "datum.p==='b6'"}], "mark": {"type": "text", "fontSize": 22, "fontWeight": "bold"}, "encoding": {"text": {"field": "t"}}}
 ]},
{"width": 233, "height": 184,
 "encoding": {"x": {"field": "x", "type": "quantitative", "scale": {"domain": [-4.01, 3.888], "nice": false, "zero": false}, "axis": null},
  "y": {"field": "y", "type": "quantitative", "scale": {"domain": [-2.983, 3.254], "nice": false, "zero": false}, "axis": null}},
 "layer": [
  {"data": {"name": "pts"}, "transform": [{"filter": "datum.p==='b7'"}], "mark": {"type": "point", "filled": true, "opacity": 1, "size": 330, "strokeWidth": 0},
   "encoding": {"fill": {"field": "s", "type": "nominal", "scale": {"domain": ["Summer", "Winter"], "range": ["#ff0000", "#0000ff"]}},
    "shape": {"field": "k", "type": "nominal", "scale": {"domain": ["MLDρ", "Max dρ/dz"], "range": ["M0,-1.25L1,0L0,1.25L-1,0Z", "circle"]}}}},
  {"data": {"name": "axB"}, "mark": {"type": "rule", "color": "#3a3a3a", "strokeWidth": 2}, "encoding": {"x2": {"field": "x2"}, "y2": {"field": "y2"}}},
  {"data": {"name": "o"}, "mark": {"type": "point", "shape": "circle", "size": 3481, "filled": false, "color": "black", "strokeWidth": 1, "opacity": 1}},
  {"data": {"name": "tkB"}, "mark": {"type": "text", "font": "Liberation Sans", "fontSize": 10}, "encoding": {"text": {"field": "t"}}},
  {"data": {"name": "bold"}, "transform": [{"filter": "datum.p==='b7'"}], "mark": {"type": "text", "fontSize": 22, "fontWeight": "bold"}, "encoding": {"text": {"field": "t"}}}
 ]},
{"width": 317, "height": 184,
 "encoding": {"x": {"field": "x", "type": "quantitative", "scale": {"domain": [-3.898, 6.847], "nice": false, "zero": false}, "axis": null},
  "y": {"field": "y", "type": "quantitative", "scale": {"domain": [-2.983, 3.254], "nice": false, "zero": false}, "axis": null}},
 "layer": [
  {"data": {"name": "pts"}, "transform": [{"filter": "datum.p==='b8'"}], "mark": {"type": "point", "filled": true, "opacity": 1, "size": 330, "strokeWidth": 0},
   "encoding": {"fill": {"field": "s", "type": "nominal", "scale": {"domain": ["Summer", "Winter"], "range": ["#ff0000", "#0000ff"]}},
    "shape": {"field": "k", "type": "nominal", "scale": {"domain": ["MLDρ", "Max dρ/dz"], "range": ["M0,-1.25L1,0L0,1.25L-1,0Z", "circle"]}}}},
  {"data": {"name": "axB"}, "mark": {"type": "rule", "color": "#3a3a3a", "strokeWidth": 2}, "encoding": {"x2": {"field": "x2"}, "y2": {"field": "y2"}}},
  {"data": {"name": "o"}, "mark": {"type": "point", "shape": "circle", "size": 3481, "filled": false, "color": "black", "strokeWidth": 1, "opacity": 1}},
  {"data": {"name": "tkB"}, "mark": {"type": "text", "font": "Liberation Sans", "fontSize": 10}, "encoding": {"text": {"field": "t"}}},
  {"data": {"name": "ann"}, "transform": [{"filter": "datum.p==='b8'"}], "mark": {"type": "text", "align": "left", "fontSize": 13.5}, "encoding": {"text": {"field": "t"}}},
  {"data": {"name": "bold"}, "transform": [{"filter": "datum.p==='b8'"}], "mark": {"type": "text", "fontSize": 22, "fontWeight": "bold"}, "encoding": {"text": {"field": "t"}}}
 ]}
]
}
